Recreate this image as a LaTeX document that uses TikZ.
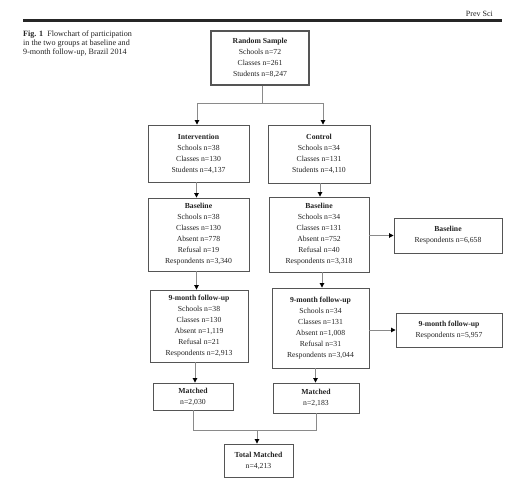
\documentclass[tikz,border=0pt]{standalone}
\usepackage{fontspec}
\setmainfont{Liberation Serif}
\usetikzlibrary{arrows.meta,calc}
\definecolor{boxline}{HTML}{555555}
\definecolor{conn}{HTML}{8A8A8A}
\definecolor{txt}{HTML}{222222}
\begin{document}
\begin{tikzpicture}[x=1pt,y=1pt,
  box/.style={draw=boxline,line width=0.9pt,rectangle,inner sep=0pt,align=center,
    text=txt,font=\fontsize{7.7}{11}\selectfont},
  conline/.style={draw=conn,line width=0.9pt},
  arr/.style={conline,-{Triangle[width=4.5pt,length=4.5pt,color=black]}}]
\useasboundingbox (0,0) rectangle (520,-483);
% header
\draw[line width=2.4pt,color=black!85] (23,-20.5) -- (502,-20.5);
\node[anchor=base east,font=\fontsize{8}{9}\selectfont,text=txt,inner sep=0pt] (journal) at (493,-16) {Prev Sci};
\node[anchor=north west,align=left,inner sep=0pt,font=\fontsize{8.1}{9}\selectfont,text=txt] (caption) at (23,-31)
  {\textbf{Fig. 1}\enspace Flowchart of participation\\in the two groups at baseline and\\9-month follow-up, Brazil 2014};
% boxes
\node[box,minimum width=98pt,minimum height=54pt,line width=1.2pt] (RS) at (260,-58)
  {\textbf{Random Sample}\\Schools n=72\\Classes n=261\\Students n=8,247};
\node[box,minimum width=101pt,minimum height=57pt] (Int) at (198.5,-153.5)
  {\textbf{Intervention}\\Schools n=38\\Classes n=130\\Students n=4,137};
\node[box,minimum width=102pt,minimum height=58pt] (Ctrl) at (319,-154)
  {\textbf{Control}\\Schools n=34\\Classes n=131\\Students n=4,110};
\node[box,minimum width=101pt,minimum height=73pt] (IntB) at (198.5,-234.5)
  {\textbf{Baseline}\\Schools n=38\\Classes n=130\\Absent n=778\\Refusal n=19\\Respondents n=3,340};
\node[box,minimum width=100pt,minimum height=75pt] (CtrlB) at (319,-234.5)
  {\textbf{Baseline}\\Schools n=34\\Classes n=131\\Absent n=752\\Refusal n=40\\Respondents n=3,318};
\node[box,minimum width=108pt,minimum height=35pt] (BasR) at (448,-235.5)
  {\textbf{Baseline}\\Respondents n=6,658};
\node[box,minimum width=98pt,minimum height=72pt] (Int9) at (199,-326)
  {\textbf{9-month follow-up}\\Schools n=38\\Classes n=130\\Absent n=1,119\\Refusal n=21\\Respondents n=2,913};
\node[box,minimum width=97pt,minimum height=80pt] (Ctrl9) at (320.5,-328)
  {\textbf{9-month follow-up}\\Schools n=34\\Classes n=131\\Absent n=1,008\\Refusal n=31\\Respondents n=3,044};
\node[box,minimum width=106pt,minimum height=34pt] (R9) at (449,-330)
  {\textbf{9-month follow-up}\\Respondents n=5,957};
\node[box,minimum width=80pt,minimum height=27pt] (IntM) at (193,-396.5)
  {\textbf{Matched}\\n=2,030};
\node[box,minimum width=86pt,minimum height=30pt] (CtrlM) at (316,-398)
  {\textbf{Matched}\\n=2,183};
\node[box,minimum width=69pt,minimum height=33pt] (Tot) at (258.5,-460.5)
  {\textbf{Total Matched}\\n=4,213};
% connectors
\coordinate (split) at (262,-103);
\coordinate (join) at (257,-430);
\draw[conline] ([xshift=2pt]RS.south) -- ([xshift=2pt]RS.south |- split);
\draw[arr] (split) -| ([xshift=-1.5pt]Int.north);
\draw[arr] (split) -| ([xshift=4pt]Ctrl.north);
\draw[arr] ([xshift=-2pt]Int.south) -- ([xshift=-2pt]Int.south |- IntB.north);
\draw[arr] ([xshift=1pt]Ctrl.south) -- ([xshift=1pt]Ctrl.south |- CtrlB.north);
\draw[arr] ([xshift=-2pt]IntB.south) -- ([xshift=-2pt]IntB.south |- Int9.north);
\draw[arr] ([xshift=3pt]CtrlB.south) -- ([xshift=3pt]CtrlB.south |- Ctrl9.north);
\draw[arr] (CtrlB.east |- BasR.west) -- (BasR.west);
\draw[arr] (Ctrl9.east |- R9.west) -- (R9.west);
\draw[arr] ([xshift=-4pt]Int9.south) -- ([xshift=-4pt]Int9.south |- IntM.north);
\draw[arr] ([xshift=-5pt]Ctrl9.south) -- ([xshift=-5pt]Ctrl9.south |- CtrlM.north);
\draw[conline] (IntM.south) -- (IntM.south |- join) -- (CtrlM.south |- join) -- (CtrlM.south);
\draw[arr] (join) -- (join |- Tot.north);
\end{tikzpicture}
\end{document}
